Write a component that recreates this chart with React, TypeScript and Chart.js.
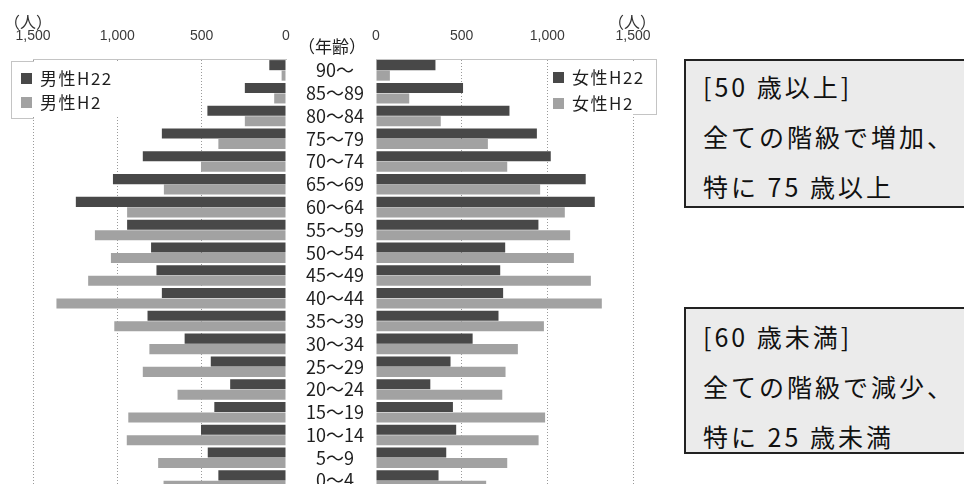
import React, { useEffect, useRef } from 'react';
import { Chart, registerables } from 'chart.js';

Chart.register(...registerables);

// Age groups, oldest at the top
const ageGroups = ['90～', '85～89', '80～84', '75～79', '70～74', '65～69', '60～64', '55～59', '50～54', '45～49', '40～44', '35～39', '30～34', '25～29', '20～24', '15～19', '10～14', '5～9', '0～4'];

// Population (persons) per age group
const maleH22 = [99, 244, 466, 736, 849, 1026, 1246, 942, 800, 768, 736, 821, 601, 446, 331, 425, 504, 464, 401];
const maleH2 = [26, 70, 244, 401, 504, 724, 942, 1133, 1038, 1173, 1361, 1018, 810, 849, 643, 935, 944, 758, 726];
const femaleH22 = [347, 508, 779, 939, 1020, 1224, 1277, 948, 754, 725, 742, 715, 564, 435, 317, 449, 468, 410, 365];
const femaleH2 = [81, 194, 378, 653, 766, 958, 1102, 1133, 1155, 1254, 1318, 980, 828, 756, 737, 987, 949, 766, 643];

const maleLabels = ['男性H22', '男性H2'];
const femaleLabels = ['女性H22', '女性H2'];
const axisTicks = [0, 500, 1000, 1500];

const noteAbove = ['[50 歳以上]', '全ての階級で増加、', '特に 75 歳以上'];
const noteBelow = ['[60 歳未満]', '全ての階級で減少、', '特に 25 歳未満'];

const DARK = '#484848';
const LIGHT = '#a2a2a2';
const CJK = '"Noto Sans CJK JP", "Noto Sans", sans-serif';

// the female canvas starts a little left of its zero line so the "0" tick fits
const RIGHT_CANVAS_LEFT = 360;

function buildChart(canvas: HTMLCanvasElement, side: 'left' | 'right') {
  const isLeft = side === 'left';
  const labels = isLeft ? maleLabels : femaleLabels;
  return new Chart(canvas, {
    type: 'bar',
    data: {
      labels: ageGroups,
      datasets: [
        { label: labels[0], data: isLeft ? maleH22 : femaleH22, backgroundColor: DARK },
        { label: labels[1], data: isLeft ? maleH2 : femaleH2, backgroundColor: LIGHT },
      ],
    },
    options: {
      indexAxis: 'y',
      responsive: false,
      animation: false,
      events: [],
      layout: {
        padding: isLeft
          ? { left: 33, right: 0, top: 0, bottom: 0 }
          : { left: 376 - RIGHT_CANVAS_LEFT, right: RIGHT_CANVAS_LEFT + 316 - 633, top: 0, bottom: 0 },
      },
      plugins: { legend: { display: false }, tooltip: { enabled: false } },
      datasets: { bar: { categoryPercentage: 0.92, barPercentage: 0.96, borderWidth: 0 } },
      scales: {
        x: {
          position: 'top',
          reverse: isLeft,
          min: 0,
          max: 1500,
          afterBuildTicks: (s: any) => {
            s.ticks = axisTicks.map((v) => ({ value: v }));
          },
          afterFit: (s: any) => {
            s.height = 59;
            s.paddingLeft = 0;
            s.paddingRight = 0;
          },
          grid: {
            drawTicks: false,
            lineWidth: 1,
            color: (c: any) => (c.tick && c.tick.value === 0 ? 'rgba(0,0,0,0)' : '#9a9a9a'),
          },
          border: { display: true, color: '#c4c4c4', dash: [1, 2] },
          ticks: {
            padding: 14,
            color: '#3a3a3a',
            font: { family: '"Liberation Sans", Arial, sans-serif', size: 14 },
            callback: (v: any) => Number(v).toLocaleString('en-US'),
          },
        },
        y: isLeft
          ? {
              position: 'right',
              afterFit: (s: any) => {
                s.width = 90;
                s.paddingTop = 0;
                s.paddingBottom = 0;
              },
              grid: { display: false },
              border: { display: false },
              ticks: {
                autoSkip: false,
                crossAlign: 'center',
                padding: 12,
                color: '#1e1e1e',
                font: { family: CJK, size: 18 },
              },
            }
          : { display: false },
      },
    },
  } as any);
}

function LegendItem({ color, text, left, top }: { color: string; text: string; left: number; top: number }) {
  return (
    <div style={{ position: 'absolute', left, top, height: 22, display: 'flex', alignItems: 'center' }}>
      <div style={{ width: 11, height: 11, background: color, marginRight: 8 }} />
      <span style={{ fontSize: 17, letterSpacing: 1.5, color: '#1e1e1e', lineHeight: '22px' }}>{text}</span>
    </div>
  );
}

function NoteBox({ lines, top, height, padTop }: { lines: string[]; top: number; height: number; padTop: number }) {
  return (
    <div
      style={{
        position: 'absolute',
        left: 684,
        top,
        width: 300,
        height,
        boxSizing: 'border-box',
        border: '2px solid #222',
        background: '#ebebeb',
        paddingLeft: 17,
        paddingTop: padTop,
      }}
    >
      {lines.map((l) => (
        <div key={l} style={{ fontSize: 25, lineHeight: '50px', letterSpacing: 3, color: '#111', whiteSpace: 'nowrap' }}>
          {l}
        </div>
      ))}
    </div>
  );
}

export default function App() {
  const leftRef = useRef<HTMLCanvasElement>(null);
  const rightRef = useRef<HTMLCanvasElement>(null);

  useEffect(() => {
    const male = buildChart(leftRef.current!, 'left');
    const female = buildChart(rightRef.current!, 'right');
    return () => {
      male.destroy();
      female.destroy();
    };
  }, []);

  return (
    <div
      style={{
        position: 'fixed',
        left: 0,
        top: 0,
        width: 964,
        height: 484,
        overflow: 'hidden',
        background: '#fff',
        fontFamily: CJK,
      }}
    >
      <canvas ref={leftRef} width={376} height={492} style={{ position: 'absolute', left: 0, top: 0 }} />
      <canvas ref={rightRef} width={316} height={492} style={{ position: 'absolute', left: RIGHT_CANVAS_LEFT, top: 0 }} />

      {/* unit captions */}
      <div style={{ position: 'absolute', left: 4, top: 10, width: 44, textAlign: 'center', fontSize: 16, lineHeight: '22px', color: '#333' }}>（人）</div>
      <div style={{ position: 'absolute', left: 608, top: 10, width: 44, textAlign: 'center', fontSize: 16, lineHeight: '22px', color: '#333' }}>（人）</div>
      <div style={{ position: 'absolute', left: 292, top: 35, width: 80, textAlign: 'center', fontSize: 17, lineHeight: '22px', color: '#1e1e1e' }}>（年齢）</div>

      {/* male legend */}
      <div style={{ position: 'absolute', left: 12, top: 62, width: 110, height: 55, background: '#fff' }} />
      <div style={{ position: 'absolute', left: 11, top: 61, width: 22, height: 56, borderLeft: '1px solid #c4c4c4', borderTop: '1px solid #c4c4c4', borderBottom: '1px solid #c4c4c4' }} />
      <LegendItem color={DARK} text={maleLabels[0]} left={21} top={67} />
      <LegendItem color={LIGHT} text={maleLabels[1]} left={21} top={91} />

      {/* female legend */}
      <div style={{ position: 'absolute', left: 550, top: 61, width: 107, height: 52, background: '#fff' }} />
      <div style={{ position: 'absolute', left: 633, top: 59, width: 23, height: 54, borderRight: '1px solid #c4c4c4', borderTop: '1px solid #c4c4c4', borderBottom: '1px solid #c4c4c4' }} />
      <LegendItem color={DARK} text={femaleLabels[0]} left={553} top={66} />
      <LegendItem color={LIGHT} text={femaleLabels[1]} left={553} top={92} />

      <NoteBox lines={noteAbove} top={59} height={149} padTop={0} />
      <NoteBox lines={noteBelow} top={307} height={147} padTop={2} />
    </div>
  );
}
